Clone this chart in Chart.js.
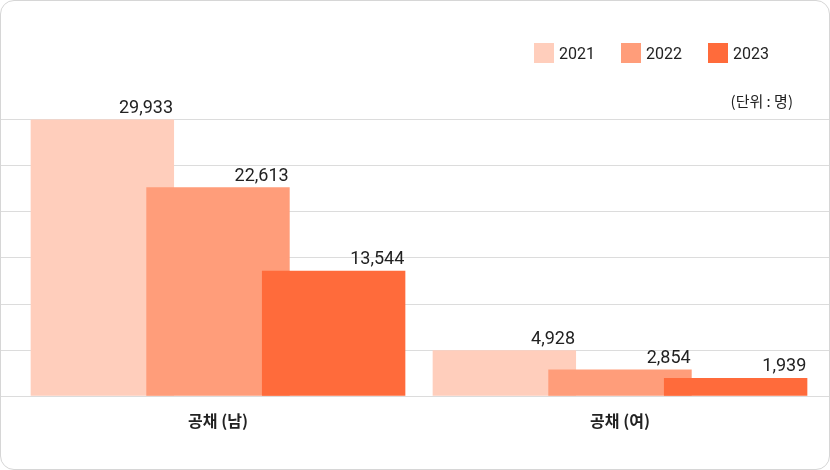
<!DOCTYPE html>
<html><head><meta charset="utf-8">
<script src="https://cdn.jsdelivr.net/npm/chart.js@4"></script>
<style>
body{margin:0;background:#fff;font-family:"Noto Sans CJK KR","Noto Sans",sans-serif}
#wrap{position:absolute;left:0;top:0;width:828px;height:468px;border:1px solid #d6d6d6;border-radius:14px;overflow:hidden}
#c{position:absolute;left:0;top:0}
#legend{position:absolute;right:60px;top:42px;display:flex;gap:26px;font-size:16px;color:#222;font-family:Roboto,sans-serif}
#legend span{display:flex;align-items:center}
#legend i{display:inline-block;width:20px;height:20px;margin-right:5px}
#unit{position:absolute;right:36px;top:89px;font-size:15px;color:#222}
</style></head><body>
<div id="wrap"><canvas id="c" width="828" height="468"></canvas>
<div id="legend"></div><div id="unit">(단위 : 명)</div></div>
<script>
const categories=["공채 (남)","공채 (여)"];
const seriesNames=["2021","2022","2023"];
const v2021=[29933,4928];
const v2022=[22613,2854];
const v2023=[13544,1939];
const colors=["#FFCEBC","#FF9D7A","#FF6B3B"];
const lg=document.getElementById('legend');
seriesNames.forEach((n,i)=>{lg.innerHTML+=`<span><i style="background:${colors[i]}"></i>${n}</span>`});
const grid={id:'grid',beforeDatasetsDraw(ch){const c=ch.ctx,y=ch.scales.y;c.save();c.strokeStyle='#dcdcdc';c.lineWidth=1;
 y.ticks.forEach(t=>{const p=Math.round(y.getPixelForValue(t.value))+0.5;c.beginPath();c.moveTo(0,p);c.lineTo(ch.width,p);c.stroke();});c.restore();
 ch.data.datasets.forEach((d,i)=>ch.getDatasetMeta(i).controller.draw());return false;}};
const labels={id:'labels',afterDraw(ch){const c=ch.ctx;c.save();c.font='18px Roboto,"Noto Sans",sans-serif';c.fillStyle='#222';c.textAlign='right';c.textBaseline='bottom';
 ch.data.datasets.forEach((d,i)=>{ch.getDatasetMeta(i).data.forEach((b,j)=>{c.fillText(d.data[j].toLocaleString('en-US'),b.x+b.width/2-1,b.y-2);});});c.restore();}};
new Chart(document.getElementById('c'),{type:'bar',
 data:{labels:categories,datasets:[v2021,v2022,v2023].map((d,i)=>({label:seriesNames[i],data:d,backgroundColor:colors[i],barPercentage:1.24,categoryPercentage:0.863}))},
 options:{responsive:false,animation:false,layout:{padding:{top:118,left:8,right:8,bottom:30}},
  plugins:{legend:{display:false},tooltip:{enabled:false}},
  scales:{y:{min:0,max:30000,ticks:{display:false,stepSize:5000},grid:{display:false},border:{display:false}},
   x:{grid:{display:false},border:{display:false},ticks:{color:'#222',padding:8,font:{size:16,weight:'bold',family:'"Noto Sans CJK KR"'}}}}},
 plugins:[grid,labels]});
</script></body></html>
